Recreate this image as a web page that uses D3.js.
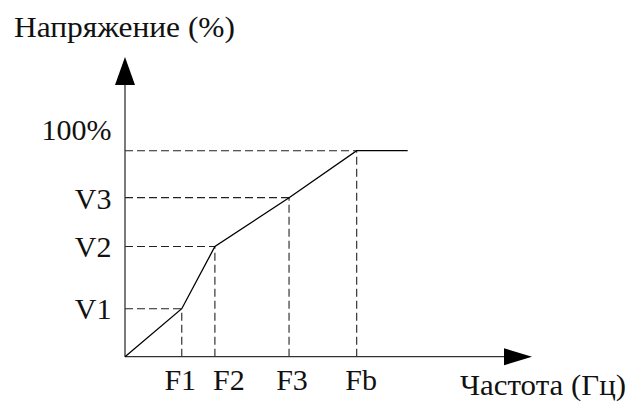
<!DOCTYPE html>
<html><head><meta charset="utf-8">
<script src="https://cdn.jsdelivr.net/npm/d3@7"></script>
<style>body{margin:0;background:#fff}svg{display:block}</style>
</head><body>
<script>
const freqLabels = ["F1","F2","F3","Fb"];
const freqValues = [24.5, 38.8, 70.8, 100];
const voltLabels = ["V1","V2","V3","100%"];
const voltValues = [23.3, 53.5, 77.2, 100];
const curveX = [0, 24.5, 38.8, 70.8, 100, 122];
const curveY = [0, 23.3, 53.5, 77.2, 100, 100];
const yTitle = "Напряжение (%)";
const xTitle = "Частота (Гц)";

const FONT = "'Liberation Serif', 'Times New Roman', 'DejaVu Serif', serif";
const W = 629, H = 403;
const svg = d3.select("body").append("svg").attr("width", W).attr("height", H);
const x = d3.scaleLinear().domain([0, 100]).range([125, 356.7]);
const y = d3.scaleLinear().domain([0, 100]).range([356.7, 150.7]);
const x0 = x(0), y0 = y(0);

// dashed guides
const g = svg.append("g").attr("stroke", "#222").attr("stroke-width", 1.1).attr("stroke-dasharray", "8,4").attr("fill", "none");
freqValues.forEach((f, i) => {
  g.append("line").attr("x1", x(f)).attr("x2", x(f)).attr("y1", y0).attr("y2", y(voltValues[i]));
  g.append("line").attr("x1", x0).attr("x2", x(f)).attr("y1", y(voltValues[i])).attr("y2", y(voltValues[i]));
});

// axes
const ax = svg.append("g").attr("stroke", "#333").attr("stroke-width", 1.3);
ax.append("line").attr("x1", x0).attr("x2", x0).attr("y1", y0).attr("y2", 84);
ax.append("line").attr("x1", x0).attr("x2", 505).attr("y1", y0).attr("y2", y0);
svg.append("path").attr("d", `M${x0},57 L${x0-10},85 L${x0+10},85 Z`).attr("fill", "#000");
svg.append("path").attr("d", `M532,${y0} L504,${y0-8.5} L504,${y0+8.5} Z`).attr("fill", "#000");

// curve
const line = d3.line().x(d => x(d[0])).y(d => y(d[1]));
svg.append("path").datum(d3.zip(curveX, curveY)).attr("d", line)
  .attr("fill", "none").attr("stroke", "#000").attr("stroke-width", 1.3);

function txt(xp, yp, s, size, anchor) {
  return svg.append("text").attr("x", xp).attr("y", yp)
    .attr("text-anchor", anchor || "start")
    .style("font-family", FONT).style("font-size", size + "px").style("fill", "#111")
    .text(s);
}
// y labels
const yOff = [10, 11, 11.5, -10.7];
voltLabels.forEach((l, i) => txt(111.5, y(voltValues[i]) + yOff[i], l, 30, "end"));
// x labels
const xOff = [-1.5, 14, 3, 4.5];
freqLabels.forEach((l, i) => txt(x(freqValues[i]) + xOff[i], 389.5, l, 30, "middle"));

txt(14, 37, yTitle, 29).attr("textLength", 221).attr("lengthAdjust", "spacingAndGlyphs");
txt(460, 395, xTitle, 29).attr("textLength", 166).attr("lengthAdjust", "spacingAndGlyphs");
</script>
</body></html>
